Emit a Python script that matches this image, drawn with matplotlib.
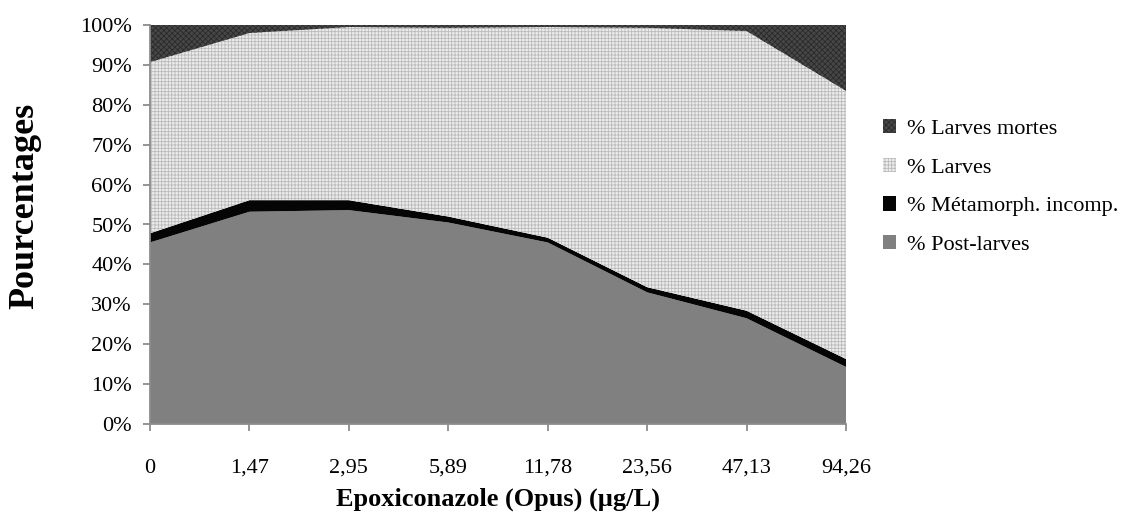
import matplotlib
matplotlib.use("Agg")
import matplotlib.pyplot as plt
from matplotlib.patches import Patch
from matplotlib.ticker import FuncFormatter

plt.rcParams['font.family'] = ['Liberation Serif', 'DejaVu Serif']
plt.rcParams['hatch.linewidth'] = 0.6

# Concentrations (µg/L) and percentages per category
concentrations = ["0", "1,47", "2,95", "5,89", "11,78", "23,56", "47,13", "94,26"]
post_larves = [45.5, 53.2, 53.6, 50.5, 45.5, 33.0, 26.5, 14.3]
metamorph_incomp = [2.3, 2.9, 2.5, 1.5, 1.2, 1.3, 1.9, 2.0]
larves = [42.9, 41.9, 43.4, 47.3, 52.8, 65.0, 70.1, 67.2]
larves_mortes = [9.3, 2.0, 0.5, 0.7, 0.5, 0.7, 1.5, 16.5]

labels = ["% Post-larves", "% Métamorph. incomp.", "% Larves", "% Larves mortes"]
faces = ["#808080", "#050505", "#ececec", "#474747"]
hatch_cols = ["#8a8a8a", "#1a1a1a", "#bababa", "#2a2a2a"]
hatches = [None, None, "+++++", "xxxxxx"]

fig = plt.figure(figsize=(11.33, 5.2), dpi=100)
ax = fig.add_axes([150 / 1133, 96 / 520, 696 / 1133, 399 / 520])

xpos = list(range(len(concentrations)))
polys = ax.stackplot(xpos, post_larves, metamorph_incomp, larves, larves_mortes,
                     colors=faces, linewidth=0)
for poly, h, hc in zip(polys, hatches, hatch_cols):
    if h:
        poly.set_hatch(h)
        poly.set_edgecolor(hc)
        poly.set_linewidth(0)

ax.set_xlim(0, len(concentrations) - 1)
ax.set_ylim(0, 100)
ax.set_xticks(xpos)
ax.set_xticklabels(concentrations)
ax.set_yticks(range(0, 101, 10))
ax.yaxis.set_major_formatter(FuncFormatter(lambda v, _: f"{int(v)}%"))

for side in ("top", "right"):
    ax.spines[side].set_visible(False)
for side in ("left", "bottom"):
    ax.spines[side].set_color("#8c8c8c")
    ax.spines[side].set_linewidth(1.3)
ax.tick_params(axis="both", colors="#8c8c8c", length=5, width=1.3, labelcolor="black",
               labelsize=16)
ax.tick_params(axis="x", pad=20)
ax.tick_params(axis="y", pad=8)

fig.text(0.022, 0.605, "Pourcentages", rotation=90, fontsize=26, fontweight="bold",
         ha="center", va="center")
fig.text(498 / 1133, 1 - 499 / 520, "Epoxiconazole (Opus) (µg/L)", fontsize=19,
         fontweight="bold", ha="center", va="center")

handles = [Patch(facecolor=f, edgecolor=hc, hatch=h, linewidth=0)
           for f, hc, h in zip(faces, hatch_cols, hatches)]
fig.legend(handles[::-1], labels[::-1], loc="center left",
           bbox_to_anchor=(883 / 1133, 1 - 187 / 520), frameon=False,
           fontsize=16, handlelength=0.6, handleheight=0.6, handletextpad=0.5,
           labelspacing=0.85, borderpad=0, borderaxespad=0)

fig.savefig("out.png", dpi=100)
